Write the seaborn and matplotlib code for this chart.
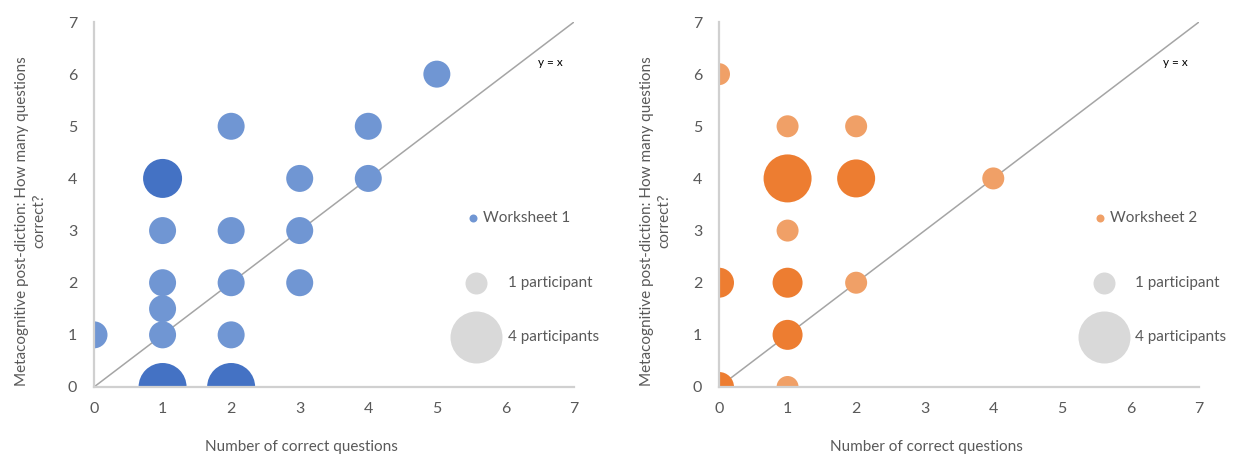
import pandas as pd
import matplotlib.pyplot as plt
import seaborn as sns

# Worksheet 1 (x = correct, y = post-diction, n = participants)
ws1_correct = [0, 1, 1, 1, 1, 1, 1, 2, 2, 2, 2, 2, 3, 3, 3, 4, 4, 5]
ws1_predicted = [1, 0, 1, 1.5, 2, 3, 4, 0, 1, 2, 3, 5, 2, 3, 4, 4, 5, 6]
ws1_count = [1, 3, 1, 1, 1, 1, 2, 3, 1, 1, 1, 1, 1, 1, 1, 1, 1, 1]

# Worksheet 2
ws2_correct = [0, 0, 0, 1, 1, 1, 1, 1, 1, 2, 2, 2, 4]
ws2_predicted = [0, 2, 6, 0, 1, 2, 3, 4, 5, 2, 4, 5, 4]
ws2_count = [2, 2, 1, 1, 2, 2, 1, 4, 1, 1, 3, 1, 1]

ticks = [0, 1, 2, 3, 4, 5, 6, 7]
xlabel = 'Number of correct questions'
ylabel = 'Metacognitive post-diction: How many questions\ncorrect?'
legend_sizes = ['1 participant', '4 participants']

TXT = '#595959'
GRID = '#D0D0D0'

sns.set_theme(style='white')
plt.rcParams['font.family'] = ['Lato', 'DejaVu Sans']

fig = plt.figure(figsize=(12.34, 4.55), dpi=100)


def px_size(d):
    # bubble diameter in pixels -> marker area in pt^2
    return (d * 0.72) ** 2


panels = [
    (ws1_correct, ws1_predicted, ws1_count, 'Worksheet 1', '#7096D3', '#4472C4',
     {1: px_size(27), 2: px_size(39), 3: px_size(48)}, 94),
    (ws2_correct, ws2_predicted, ws2_count, 'Worksheet 2', '#F0A067', '#ED7D31',
     {1: px_size(22), 2: px_size(30), 3: px_size(38), 4: px_size(48)}, 719),
]

for xs, ys, ns, name, light, dark, sizes, left_px in panels:
    ax = fig.add_axes([left_px / 1234, 1 - 387 / 455, 480 / 1234, 365 / 455])
    df = pd.DataFrame({'x': xs, 'y': ys, 'n': ns})
    pal = {k: (light if k == 1 else dark) for k in sizes}
    ax.axline((0, 0), slope=1, color='#A5A5A5', lw=1.1, zorder=1)
    sns.scatterplot(data=df, x='x', y='y', size='n', hue='n', sizes=sizes,
                    palette=pal, linewidth=0, alpha=1, legend=False, ax=ax, zorder=2)
    ax.set_xlim(0, 7)
    ax.set_ylim(0, 7)
    ax.set_xticks(ticks)
    ax.set_yticks(ticks)
    ax.tick_params(axis='both', length=0, labelsize=11.5, colors=TXT)
    ax.tick_params(axis='x', pad=11)
    ax.tick_params(axis='y', pad=12)
    for s in ['top', 'right']:
        ax.spines[s].set_visible(False)
    for s in ['left', 'bottom']:
        ax.spines[s].set_color(GRID)
        ax.spines[s].set_linewidth(1.6)
    ax.set_xlabel(xlabel, fontsize=11, color=TXT, va='center')
    ax.xaxis.set_label_coords(0.432, -0.164)
    ax.set_ylabel(ylabel, fontsize=11, color=TXT, va='center', linespacing=1.3)
    ax.yaxis.set_label_coords(-0.132, 0.455)

    ax.text(0.95, 0.888, 'y = x', transform=ax.transAxes, fontsize=8.5,
            color='black', ha='center', va='center')

    # custom legend
    lx = (1100 - 719) / 480 if left_px > 500 else (473 - 94) / 480
    cx = (1104 - 719) / 480 if left_px > 500 else (476 - 94) / 480
    tx = 0.867 if left_px > 500 else 0.8625
    ax.scatter([lx], [0.463], s=px_size(8), color=light, linewidth=0,
               transform=ax.transAxes, clip_on=False)
    ax.text(lx + 0.02, 0.463, name, transform=ax.transAxes, fontsize=11,
            color=TXT, va='center', ha='left')
    for lab, yy, d in zip(legend_sizes, [0.285, 0.137], [22, 52]):
        ax.scatter([cx], [yy], s=px_size(d), color='#D9D9D9', linewidth=0,
                   transform=ax.transAxes, clip_on=False)
        ax.text(tx, yy, lab, transform=ax.transAxes, fontsize=11,
                color=TXT, va='center', ha='left')

fig.savefig('out.png', dpi=100)
